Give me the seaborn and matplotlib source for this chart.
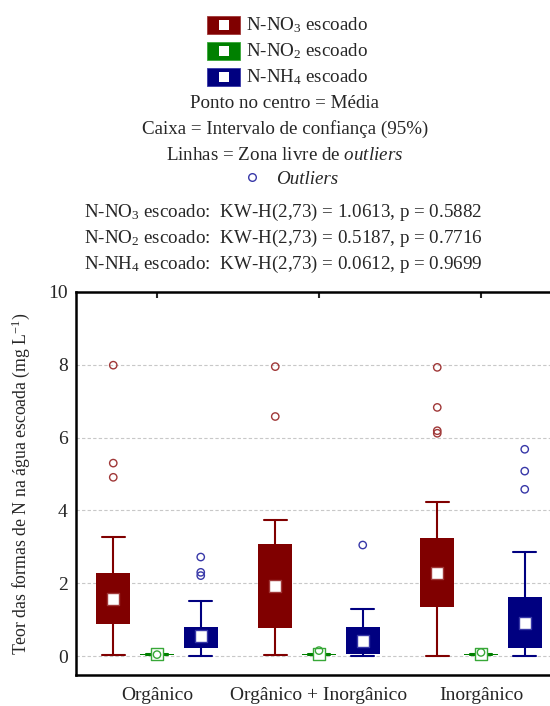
import numpy as np
import pandas as pd
import seaborn as sns
import matplotlib.pyplot as plt
from matplotlib.patches import Rectangle
from matplotlib.lines import Line2D

# categories and series
groups = ["Orgânico", "Orgânico + Inorgânico", "Inorgânico"]
series = ["N-NO$_3$ escoado", "N-NO$_2$ escoado", "N-NH$_4$ escoado"]
kw_text = ["KW-H(2,73) = 1.0613, p = 0.5882",
           "KW-H(2,73) = 0.5187, p = 0.7716",
           "KW-H(2,73) = 0.0612, p = 0.9699"]

# N-NO3: mean, 95% CI, outlier-free range, outliers
no3_mean = [1.58, 1.92, 2.29]
no3_ci_lo = [0.87, 0.78, 1.35]
no3_ci_hi = [2.27, 3.07, 3.25]
no3_min = [0.02, 0.02, 0.0]
no3_max = [3.26, 3.75, 4.23]
no3_out = [[7.99, 5.30, 4.91], [7.95, 6.58], [7.93, 6.83, 6.19, 6.12]]

# N-NO2
no2_mean = [0.05, 0.05, 0.05]
no2_ci_lo = [0.035, 0.035, 0.035]
no2_ci_hi = [0.065, 0.065, 0.065]
no2_min = [0.03, 0.03, 0.03]
no2_max = [0.07, 0.07, 0.07]
no2_out = [[0.04], [0.15], [0.10]]

# N-NH4
nh4_mean = [0.55, 0.42, 0.91]
nh4_ci_lo = [0.23, 0.07, 0.23]
nh4_ci_hi = [0.80, 0.80, 1.61]
nh4_min = [0.0, 0.0, 0.0]
nh4_max = [1.51, 1.28, 2.85]
nh4_out = [[2.72, 2.30, 2.21], [3.05], [5.68, 5.08, 4.58]]

colors = ["#800000", "#008000", "#000080"]
edge_light = ["#a03838", "#38a838", "#3838a8"]
offsets = [-0.27, 0.0, 0.27]

sns.set_style("white")
plt.rcParams['font.family'] = ['Liberation Serif', 'DejaVu Serif']
plt.rcParams['mathtext.fontset'] = 'custom'
plt.rcParams['mathtext.rm'] = 'Liberation Serif'
plt.rcParams['mathtext.it'] = 'Liberation Serif:italic'

fig = plt.figure(figsize=(5.5, 7.06), dpi=100)
ax = fig.add_axes([76 / 550, 31 / 706, 486 / 550, 383 / 706])

stats_all = [
    (no3_mean, no3_ci_lo, no3_ci_hi, no3_min, no3_max, no3_out),
    (no2_mean, no2_ci_lo, no2_ci_hi, no2_min, no2_max, no2_out),
    (nh4_mean, nh4_ci_lo, nh4_ci_hi, nh4_min, nh4_max, nh4_out),
]

rows_mean = []
rows_out = []
for k, (mn, lo, hi, wlo, whi, outs) in enumerate(stats_all):
    bstats = []
    for g in range(len(groups)):
        bstats.append(dict(med=mn[g], q1=lo[g], q3=hi[g], whislo=wlo[g],
                           whishi=whi[g], fliers=[], mean=mn[g]))
        rows_mean.append(dict(x=g + offsets[k], y=mn[g], s=k))
        for v in outs[g]:
            rows_out.append(dict(x=g + offsets[k], y=v, s=k))
    pos = [g + offsets[k] for g in range(len(groups))]
    ax.bxp(bstats, positions=pos, widths=0.21, patch_artist=True,
           showfliers=False, manage_ticks=False,
           boxprops=dict(facecolor=colors[k], edgecolor=colors[k], linewidth=0),
           whiskerprops=dict(color=colors[k], linewidth=1.5),
           capprops=dict(color=colors[k], linewidth=1.5),
           medianprops=dict(linewidth=0), capwidths=0.14, zorder=2)

df_mean = pd.DataFrame(rows_mean)
df_out = pd.DataFrame(rows_out)
for k in range(3):
    sns.scatterplot(data=df_out[df_out.s == k], x="x", y="y", ax=ax,
                    marker="o", s=28, facecolor="none",
                    edgecolor=edge_light[k], linewidth=1.0, zorder=4)
    sns.scatterplot(data=df_mean[df_mean.s == k], x="x", y="y", ax=ax,
                    marker="s", s=80, color="white",
                    edgecolor=edge_light[k], linewidth=1.0, zorder=3)

ax.set_xlim(-0.5, 2.5)
ax.set_ylim(-0.52, 10)
ax.set_yticks([0, 2, 4, 6, 8, 10])
ax.set_xticks(range(len(groups)))
ax.set_xticklabels(groups, fontsize=14)
ax.tick_params(axis='y', labelsize=14, direction='in', length=3, width=1, pad=6)
ax.tick_params(axis='x', direction='in', length=4, width=1.5, top=True, pad=9)
ax.set_xlabel("")
ax.set_ylabel("Teor das formas de N na água escoada (mg L$^{-1}$)", fontsize=12.8)
ax.yaxis.set_label_coords(-0.09, 0.5)
for y in [0, 2, 4, 6, 8]:
    ax.axhline(y, color="#c8c8c8", linestyle=(0, (3, 2)), linewidth=0.8, zorder=0)
for side in ["left", "bottom", "top"]:
    ax.spines[side].set_linewidth(1.8)
    ax.spines[side].set_color("black")
ax.spines["right"].set_visible(False)

# legend block
def fy(px):
    return 1 - px / 706

fs = 13.7
for k, (name, yp) in enumerate(zip(series, [25, 51, 77])):
    fig.add_artist(Rectangle((207 / 550, fy(yp + 8.5)), 33 / 550, 17 / 706,
                             transform=fig.transFigure, facecolor=colors[k],
                             edgecolor=edge_light[k], linewidth=0.6))
    fig.add_artist(Rectangle((218.5 / 550, fy(yp + 5)), 10 / 550, 10 / 706,
                             transform=fig.transFigure, facecolor="white",
                             edgecolor="none"))
    fig.text(246 / 550, fy(yp), name, fontsize=fs, ha="left", va="center")

fig.text(285 / 550, fy(103), "Ponto no centro = Média", fontsize=fs, ha="center", va="center")
fig.text(285 / 550, fy(129), "Caixa = Intervalo de confiança (95%)", fontsize=fs,
         ha="center", va="center")
fig.text(285 / 550, fy(155), "Linhas = Zona livre de $\\mathit{outliers}$", fontsize=fs,
         ha="center", va="center")
fig.add_artist(Line2D([252 / 550], [fy(177)], marker="o", markersize=5.5,
                      markerfacecolor="none", markeredgecolor="#3838a8",
                      transform=fig.transFigure))
fig.text(276 / 550, fy(179), "Outliers", fontsize=fs, style="italic",
         ha="left", va="center")

for name, kw, yp in zip(series, kw_text, [212, 238, 264]):
    fig.text(283 / 550, fy(yp), name + ":  " + kw, fontsize=fs, ha="center", va="center")

fig.savefig("out.png", dpi=100)
